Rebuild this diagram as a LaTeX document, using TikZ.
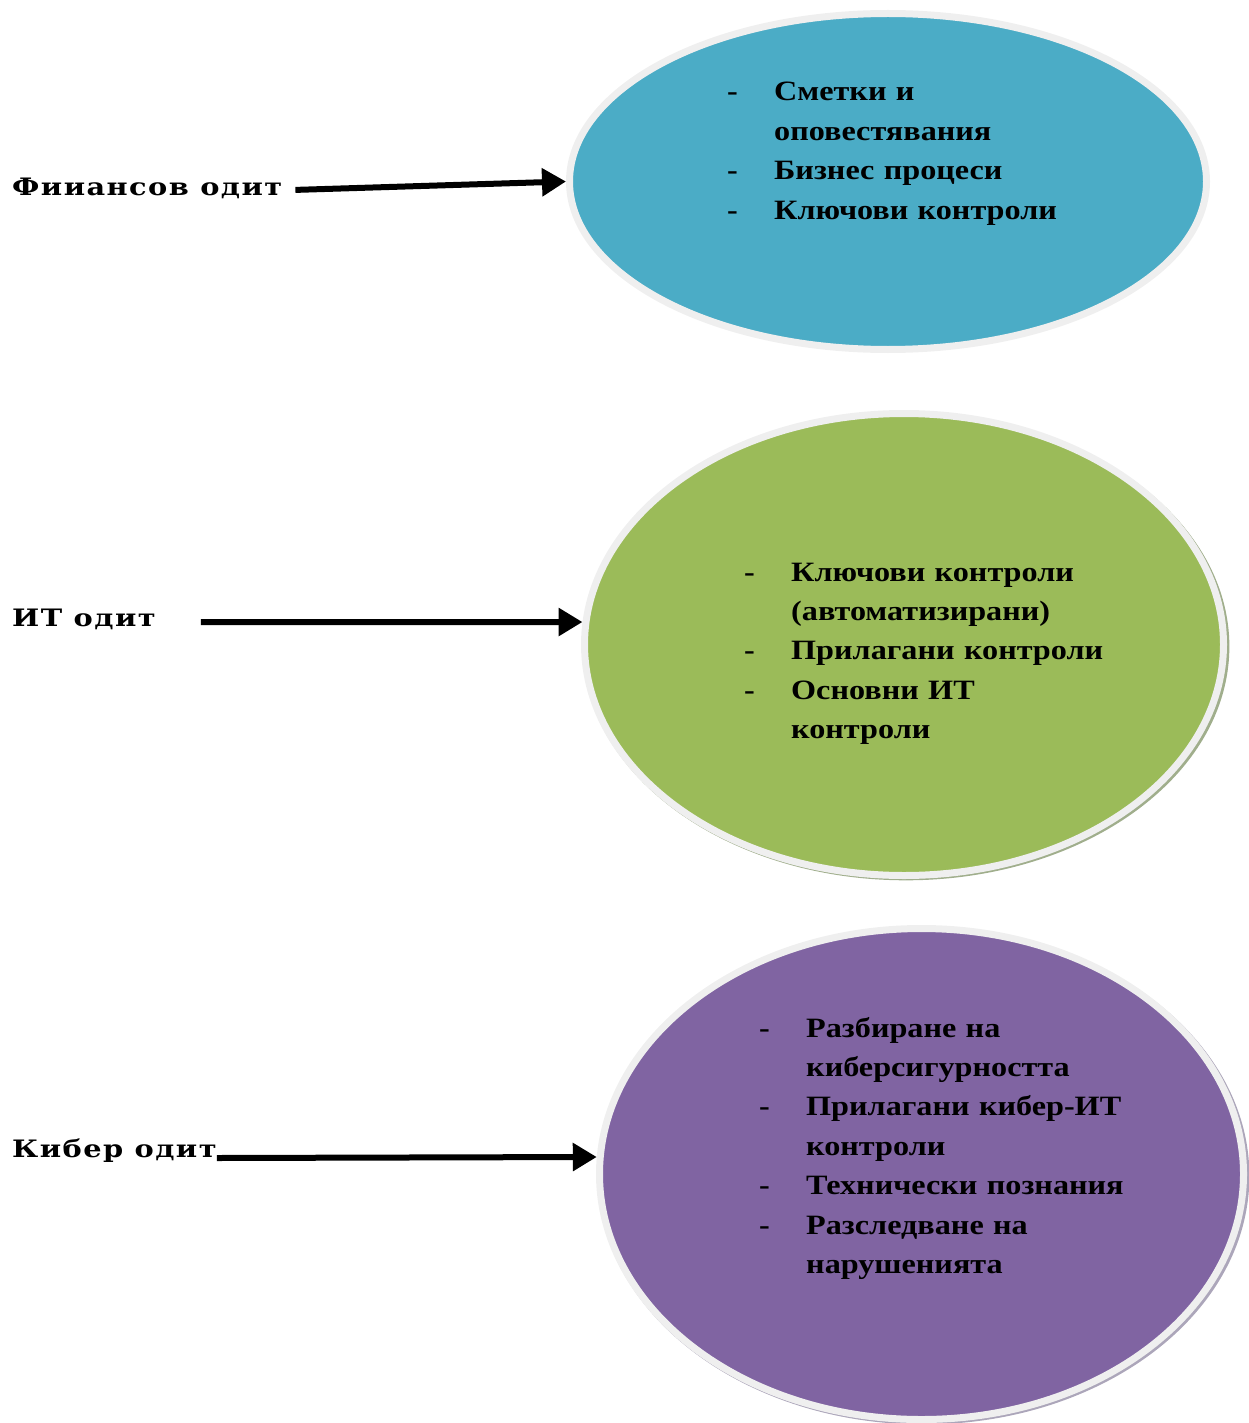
\documentclass[tikz,border=0pt]{standalone}
\usepackage{fontspec}
\setmainfont{Liberation Serif}
\newfontfamily\listfont[FakeStretch=1.15]{Liberation Serif}
\newfontfamily\labelfont[FakeStretch=1.2,LetterSpace=6]{DejaVu Serif}
\usepackage{tikz}
\usepackage{xcolor}
\usetikzlibrary{
    arrows.meta,
    shapes.geometric,
    shadows,
    positioning
}
\definecolor{finblue}{HTML}{4BACC6}
\definecolor{itgreen}{HTML}{9BBB59}
\definecolor{cybpurple}{HTML}{8064A2}
\definecolor{rimgrey}{HTML}{EFEFEF}
\definecolor{greenshade}{RGB}{160,174,140}
\definecolor{purpleshade}{RGB}{172,166,186}
\newcommand{\itm}[1]{\makebox[47pt][l]{-}#1}
\newcommand{\cont}[1]{\hspace*{47pt}#1}

\begin{document}
\begin{tikzpicture}[x=1pt, y=-1pt,
    oval/.style={ellipse, draw=rimgrey, line width=7pt, inner sep=0pt},
    lbl/.style={anchor=base west, inner sep=0pt, font=\labelfont\bfseries\fontsize{24}{28}\selectfont},
    lst/.style={anchor=base west, inner sep=0pt, text width=440pt, align=left,
        font=\listfont\bfseries\fontsize{28}{39.4}\selectfont},
    pointer/.style={line width=6pt, -{Triangle[length=24pt, width=27pt]}}]
    \useasboundingbox (0,0) rectangle (1249,1423);
    % ellipses
    \node[oval, fill=finblue, minimum width=637pt, minimum height=336pt] (fin) at (888,181.5) {};
    \node[oval, fill=itgreen, minimum width=639pt, minimum height=462pt,
        drop shadow={shadow xshift=2pt, shadow yshift=-2pt, shadow scale=1.012, fill=greenshade, opacity=1}] (it) at (904,644.5) {};
    \node[oval, fill=cybpurple, minimum width=644pt, minimum height=491pt,
        drop shadow={shadow xshift=2pt, shadow yshift=-2pt, shadow scale=1.012, fill=purpleshade, opacity=1}] (cyb) at (921.5,1174) {};
    % lists
    \node[lst] (finlist) at (727,101) {\itm{Сметки и}\\ \cont{оповестявания}\\ \itm{Бизнес процеси}\\ \itm{Ключови контроли}};
    \node[lst] (itlist) at (744,581) {\itm{Ключови контроли}\\ \cont{(автоматизирани)}\\ \itm{Прилагани контроли}\\ \itm{Основни ИТ}\\ \cont{контроли}};
    \node[lst] (cyblist) at (759,1037) {\itm{Разбиране на}\\ \cont{киберсигурността}\\ \itm{Прилагани кибер-ИТ}\\ \cont{контроли}\\ \itm{Технически познания}\\ \itm{Разследване на}\\ \cont{нарушенията}};
    % audit labels
    \node[lbl] (finlbl) at (12,196) {Фииансов одит};
    \node[lbl] (itlbl) at (12,626) {ИТ одит};
    \node[lbl] (cyblbl) at (12,1157) {Кибер одит};
    \draw[pointer] ([xshift=13pt, yshift=-1pt]finlbl.east) -- (fin.west);
    \draw[pointer] ([xshift=45pt]itlbl.east |- 0,622) -- (it.176);
    \draw[pointer] (cyblbl.east |- 0,1158) -- (cyb.177);
\end{tikzpicture}
\end{document}
